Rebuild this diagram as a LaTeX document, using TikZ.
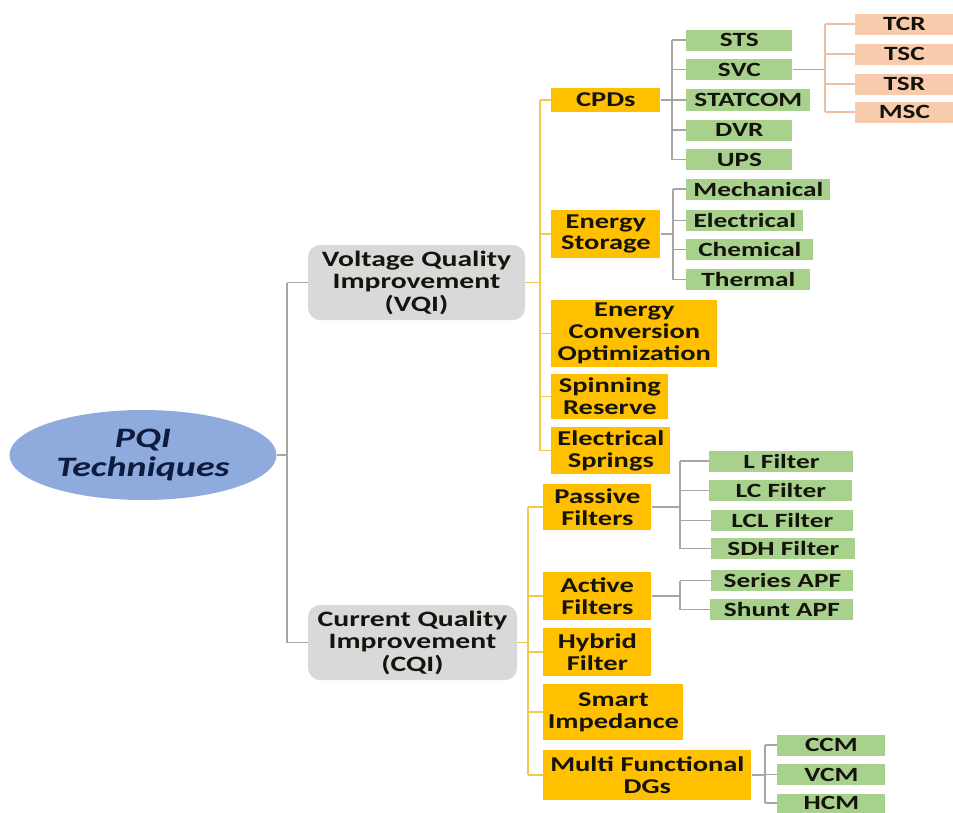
\documentclass[tikz,border=0pt]{standalone}
\usepackage{fontspec}
\setmainfont{Carlito}[FakeStretch=1.35]
\usetikzlibrary{shapes.geometric}
\definecolor{RootBlue}{HTML}{8FAADC}
\definecolor{RootInk}{HTML}{0D1B3E}
\definecolor{DomainGray}{HTML}{D9D9D9}
\definecolor{MethodGold}{HTML}{FFC000}
\definecolor{LeafGreen}{HTML}{A9D18E}
\definecolor{SubSalmon}{HTML}{F8CBAD}
\definecolor{Ink}{HTML}{14130C}
\definecolor{TrunkGray}{HTML}{A6A6A6}
\definecolor{BusGold}{HTML}{F2C94C}
\definecolor{BusSalmon}{HTML}{EDBFA0}

\begin{document}
\begin{tikzpicture}[
    x=0.2mm, y=-0.2mm,
    every node/.style={inner sep=0pt, align=center, text=Ink},
    qualbox/.style={fill=DomainGray, rounded corners=2.4mm,
        font=\bfseries\fontsize{12.5}{12.8}\selectfont},
    method/.style={fill=MethodGold, anchor=west,
        font=\bfseries\fontsize{12}{12.4}\selectfont},
    leaf/.style={fill=LeafGreen, anchor=west, minimum height=4.2mm,
        font=\bfseries\fontsize{11.5}{12}\selectfont},
    subleaf/.style={leaf, fill=SubSalmon, minimum width=19.6mm},
    trunk/.style={draw=TrunkGray, line width=0.8pt},
    bus/.style={draw=BusGold, line width=0.9pt},
    twig/.style={draw=TrunkGray, line width=0.7pt},
    subtwig/.style={draw=BusSalmon, line width=0.7pt}
]
\useasboundingbox (0,0) rectangle (953,812);

% Root
\node[ellipse, fill=RootBlue, minimum width=53.4mm, minimum height=18mm,
      text=RootInk, font=\bfseries\itshape\fontsize{16}{17}\selectfont]
    (root) at (143,455) {PQI\\Techniques};

% Quality domains
\node[qualbox, minimum width=43.4mm, minimum height=15mm] (vqi) at (416.5,282.5)
    {Voltage Quality\\Improvement\\(VQI)};
\node[qualbox, minimum width=41.8mm, minimum height=15mm] (cqi) at (412.5,642.5)
    {Current Quality\\Improvement\\(CQI)};

\coordinate (rbus) at (287,0);
\draw[trunk] (root.east) -- (root.east -| rbus);
\draw[trunk] (rbus |- vqi) -- (rbus |- cqi);
\draw[trunk] (rbus |- vqi) -- (vqi.west);
\draw[trunk] (rbus |- cqi) -- (cqi.west);

% VQI methods
\node[method, minimum width=21.8mm, minimum height=4.8mm] (cpd) at (551,100) {CPDs};
\node[method, minimum width=21.8mm, minimum height=9.6mm] (estor) at (551,234)
    {Energy\\Storage};
\node[method, minimum width=33.2mm, minimum height=13.4mm] (econv) at (551,333.5)
    {Energy\\Conversion\\Optimization};
\node[method, minimum width=23.4mm, minimum height=9mm] (spin) at (551,396.5)
    {Spinning\\Reserve};
\node[method, minimum width=23.8mm, minimum height=9.4mm] (espring) at (551,450.5)
    {Electrical\\Springs};

\coordinate (vbus) at (540,0);
\draw[bus] (vqi.east) -- (vqi.east -| vbus);
\draw[bus] (vbus |- cpd) -- (vbus |- espring);
\foreach \m in {cpd,estor,econv,spin,espring}
    \draw[bus] (vbus |- \m.west) -- (\m.west);

% CQI methods
\node[method, minimum width=21.6mm, minimum height=9.2mm] (pasf) at (543,507)
    {Passive\\Filters};
\node[method, minimum width=21.6mm, minimum height=9.6mm] (actf) at (543,596)
    {Active\\Filters};
\node[method, minimum width=21.6mm, minimum height=9.6mm] (hybf) at (543,652)
    {Hybrid\\Filter};
\node[method, minimum width=28mm, minimum height=11.2mm] (smimp) at (543,712)
    {Smart\\Impedance};
\node[method, minimum width=41.6mm, minimum height=10mm] (mfdg) at (543,775)
    {Multi Functional\\DGs};

\coordinate (cbus) at (528,0);
\draw[bus] (cqi.east) -- (cqi.east -| cbus);
\draw[bus] (cbus |- pasf) -- (cbus |- mfdg);
\foreach \m in {pasf,actf,hybf,smimp,mfdg}
    \draw[bus] (cbus |- \m.west) -- (\m.west);

% CPD devices
\node[leaf, minimum width=21.2mm] (sts) at (686,40) {STS};
\node[leaf, minimum width=21.2mm] (svc) at (686,69.5) {SVC};
\node[leaf, minimum width=24.8mm, minimum height=4.4mm] (statcom) at (686,100) {STATCOM};
\node[leaf, minimum width=21.2mm] (dvr) at (686,130) {DVR};
\node[leaf, minimum width=21.2mm] (ups) at (686,159.5) {UPS};

\coordinate (cpdbus) at (672,0);
\draw[twig] (cpd.east) -- (cpd.east -| cpdbus);
\draw[twig] (cpdbus |- sts) -- (cpdbus |- ups);
\foreach \d in {sts,svc,statcom,dvr,ups}
    \draw[twig] (cpdbus |- \d.west) -- (\d.west);

% SVC types
\node[subleaf] (tcr) at (855,24) {TCR};
\node[subleaf] (tsc) at (855,54) {TSC};
\node[subleaf] (tsr) at (855,84) {TSR};
\node[subleaf] (msc) at (855,112) {MSC};

\coordinate (svcbus) at (825,0);
\draw[twig] (svc.east) -- (svc.east -| svcbus);
\draw[subtwig] (svcbus |- tcr) -- (svcbus |- msc);
\foreach \d in {tcr,tsc,tsr,msc}
    \draw[subtwig] (svcbus |- \d.west) -- (\d.west);

% Storage kinds
\node[leaf, minimum width=28.8mm] (mech) at (686,189) {Mechanical};
\node[leaf, minimum width=23.4mm] (elec) at (686,220.5) {Electrical};
\node[leaf, minimum width=25.4mm] (chem) at (686,249.5) {Chemical};
\node[leaf, minimum width=24.8mm] (therm) at (686,279.5) {Thermal};

\coordinate (esbus) at (673,0);
\draw[twig] (estor.east) -- (estor.east -| esbus);
\draw[twig] (esbus |- mech) -- (esbus |- therm);
\foreach \d in {mech,elec,chem,therm}
    \draw[twig] (esbus |- \d.west) -- (\d.west);

% Passive filters
\node[leaf, minimum width=28.8mm] (lf) at (709,461) {L Filter};
\node[leaf, minimum width=28.6mm] (lcf) at (709,490.5) {LC Filter};
\node[leaf, minimum width=28.4mm] (lclf) at (711,520.5) {LCL Filter};
\node[leaf, minimum width=28.8mm] (sdhf) at (711,548.5) {SDH Filter};

\coordinate (pfbus) at (680,0);
\draw[twig] (pasf.east) -- (pasf.east -| pfbus);
\draw[twig] (pfbus |- lf) -- (pfbus |- sdhf);
\foreach \d in {lf,lcf,lclf,sdhf}
    \draw[twig] (pfbus |- \d.west) -- (\d.west);

% Active filters
\node[leaf, minimum width=28.4mm] (serapf) at (711,580.5) {Series APF};
\node[leaf, minimum width=28.6mm] (shapf) at (710,609.5) {Shunt APF};

\draw[twig] (actf.east) -- (actf.east -| pfbus);
\draw[twig] (pfbus |- serapf) -- (pfbus |- shapf);
\foreach \d in {serapf,shapf}
    \draw[twig] (pfbus |- \d.west) -- (\d.west);

% DG control modes
\node[leaf, minimum width=21.6mm] (ccm) at (777,745) {CCM};
\node[leaf, minimum width=21.6mm] (vcm) at (777,774.5) {VCM};
\node[leaf, minimum width=21.6mm, minimum height=3.8mm] (hcm) at (777,803) {HCM};

\coordinate (dgbus) at (765,0);
\draw[twig] (mfdg.east) -- (mfdg.east -| dgbus);
\draw[twig] (dgbus |- ccm) -- (dgbus |- hcm);
\foreach \d in {ccm,vcm,hcm}
    \draw[twig] (dgbus |- \d.west) -- (\d.west);

\end{tikzpicture}
\end{document}
